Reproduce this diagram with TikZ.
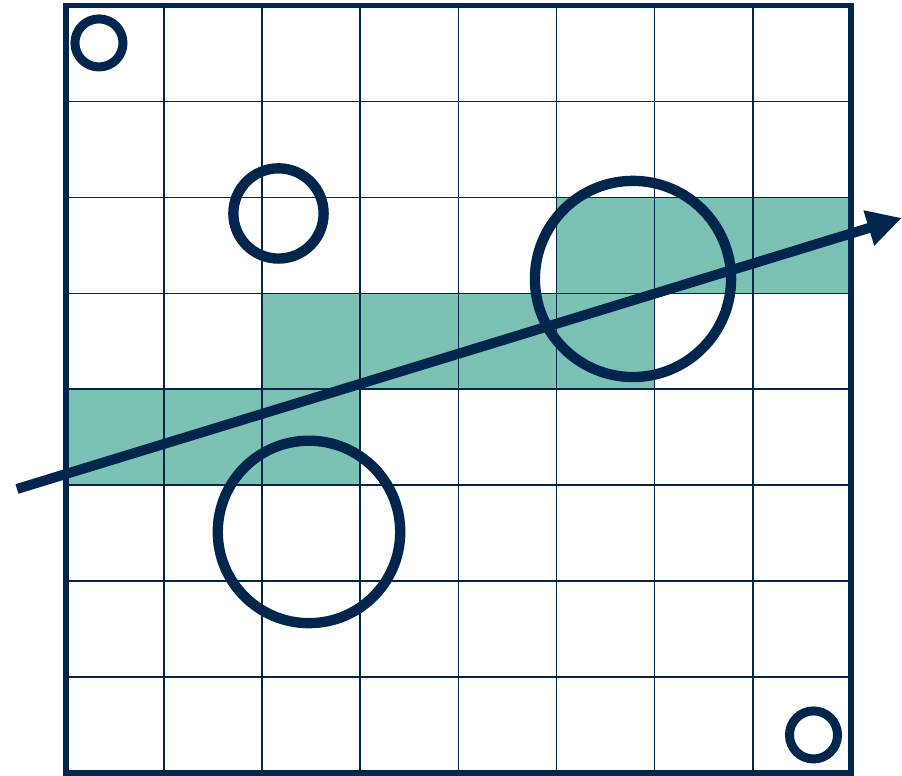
\documentclass[tikz,border=0pt]{standalone}
\usepackage{tikz}
\usetikzlibrary{arrows.meta}

\definecolor{navy}{RGB}{0,38,77}
\definecolor{teal}{RGB}{123,193,180}

\begin{document}
\begin{tikzpicture}[x=1cm, y=0.9776cm,
    cellfill/.style={fill=teal},
    gridline/.style={draw=navy, line width=0.5pt},
    ring/.style={draw=navy, line width=3pt}]
    \useasboundingbox (-0.673,-0.031) rectangle (8.522,8.060);

    % Hit cells along the ray
    \fill[cellfill] (5,5) rectangle (8,6); % row 5
    \fill[cellfill] (2,4) rectangle (6,5); % row 4
    \fill[cellfill] (0,3) rectangle (3,4); % row 3

    % Grid
    \foreach \i in {1,...,7} {
        \draw[gridline] (\i,0) -- (\i,8);
        \draw[gridline] (0,\i) -- (8,\i);
    }
    \draw[navy, line width=1.6pt] (0,0) rectangle (8,8);

    % Objects
    \draw[ring, line width=2.6pt] (0.336,7.612) circle (0.245cm);
    \draw[ring] (2.166,5.834) circle (0.46cm);
    \draw[ring] (5.78,5.151) circle (1.0cm);
    \draw[ring] (2.477,2.513) circle (0.93cm);
    \draw[ring, line width=2.6pt] (7.62,0.396) circle (0.245cm);

    % Ray
    \coordinate (raystart) at (-0.5,2.961);
    \coordinate (rayend) at (8.52,5.787);
    \draw[navy, line width=2.9pt, -{Triangle[length=10pt, width=10pt]}] (raystart) -- (rayend);
\end{tikzpicture}
\end{document}
